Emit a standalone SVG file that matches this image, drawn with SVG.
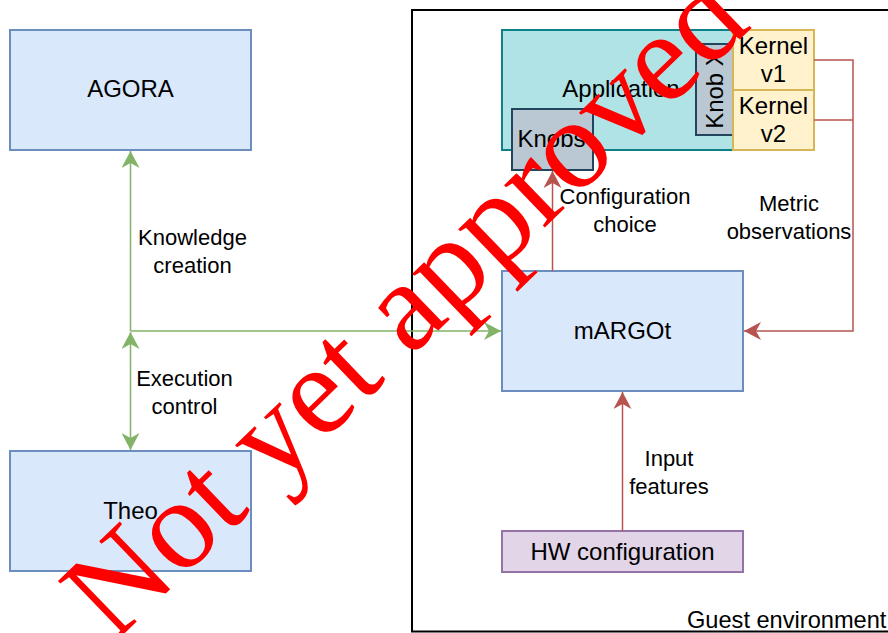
<svg xmlns="http://www.w3.org/2000/svg" width="888" height="633" viewBox="0 0 888 633">
<style>
  text { font-family: "Liberation Sans", Arial, sans-serif; fill: #000; }
  .node { font-size: 24px; text-anchor: middle; }
  .lbl { font-size: 22px; text-anchor: middle; }
  .blue { fill: #dae8fc; stroke: #6c8ebf; stroke-width: 2; }
  .teal { fill: #b0e3e6; stroke: #0e8088; stroke-width: 2; }
  .gray { fill: #bac8d3; stroke: #23445d; stroke-width: 2; }
  .yel { fill: #fff2cc; stroke: #d6b656; stroke-width: 2; }
  .purp { fill: #e1d5e7; stroke: #9673a6; stroke-width: 2; }
  .g { fill: none; stroke: #82b366; stroke-width: 1.5; }
  .r { fill: none; stroke: #b85450; stroke-width: 1.5; }
  .wm { font-family: "Liberation Serif", "Times New Roman", serif; font-size: 128px; fill: #ff0000; }
</style>
<defs>
  <marker id="ag" markerUnits="userSpaceOnUse" viewBox="0 0 17 18" refX="17" refY="9" markerWidth="17" markerHeight="18" orient="auto-start-reverse">
    <path d="M0,0 L17,9 L0,18 L5,9 Z" fill="#82b366"/>
  </marker>
  <marker id="ar" markerUnits="userSpaceOnUse" viewBox="0 0 17 18" refX="17" refY="9" markerWidth="17" markerHeight="18" orient="auto-start-reverse">
    <path d="M0,0 L17,9 L0,18 L5,9 Z" fill="#b85450"/>
  </marker>
</defs>
<rect width="888" height="633" fill="#ffffff"/>

<g id="guest">
  <rect x="412" y="10" width="520" height="621.5" fill="none" stroke="#000" stroke-width="2"/>
  <text x="687" y="628" style="font-size:23.6px">Guest environment</text>
</g>

<g id="agora">
  <rect class="blue" x="10" y="30" width="241" height="120"/>
  <text class="node" x="130.5" y="97">AGORA</text>
</g>
<g id="theo">
  <rect class="blue" x="10" y="451" width="241" height="120"/>
  <text class="node" x="130.5" y="519">Theo</text>
</g>
<g id="application">
  <rect class="teal" x="502" y="30" width="241" height="120"/>
  <text class="node" x="621" y="97">Application</text>
</g>
<g id="knobs">
  <rect class="gray" x="512" y="109" width="81" height="61"/>
  <text class="node" x="551.5" y="147">Knobs</text>
</g>
<g id="knobx">
  <rect class="gray" x="696" y="44" width="37" height="91"/>
  <text class="node" transform="translate(723,89.5) rotate(-90)" x="0" y="0">Knob X</text>
</g>
<g id="kernel1">
  <rect class="yel" x="733" y="30" width="81" height="60"/>
  <text class="node" x="773.5" y="54">Kernel</text>
  <text class="node" x="773.5" y="82">v1</text>
</g>
<g id="kernel2">
  <rect class="yel" x="733" y="90" width="81" height="60"/>
  <text class="node" x="773.5" y="114">Kernel</text>
  <text class="node" x="773.5" y="142">v2</text>
</g>
<g id="margot">
  <rect class="blue" x="502" y="271" width="241" height="120"/>
  <text class="node" x="622.5" y="339">mARGOt</text>
</g>
<g id="hw">
  <rect class="purp" x="502" y="531" width="241" height="41"/>
  <text class="node" x="622.5" y="560">HW configuration</text>
</g>

<g id="connectors">
  <path class="g" d="M130.5 331 L130.5 151" marker-end="url(#ag)"/>
  <path class="g" d="M130.5 331 L501 331" marker-end="url(#ag)"/>
  <path class="g" d="M130.5 450 L130.5 332" marker-start="url(#ag)" marker-end="url(#ag)"/>
  <path class="r" d="M552.5 271 L552.5 171" marker-end="url(#ar)"/>
  <path class="r" d="M622.5 531 L622.5 392" marker-end="url(#ar)"/>
  <path class="r" d="M814 60 L853 60 L853 331 L744 331" marker-end="url(#ar)"/>
  <path class="r" d="M814 120 L853 120"/>
  <text class="lbl" x="192.5" y="245">Knowledge</text>
  <text class="lbl" x="192.5" y="273">creation</text>
  <text class="lbl" x="184.5" y="386">Execution</text>
  <text class="lbl" x="184.5" y="414">control</text>
  <text class="lbl" x="625" y="204">Configuration</text>
  <text class="lbl" x="625" y="232">choice</text>
  <rect x="727" y="190" width="124" height="57" fill="#ffffff"/>
  <text class="lbl" x="789" y="211">Metric</text>
  <text class="lbl" x="789" y="239">observations</text>
  <text class="lbl" x="669" y="466">Input</text>
  <text class="lbl" x="669" y="494">features</text>
</g>

<text class="wm" transform="translate(113.5,644) rotate(-44)" x="0" y="0">Not yet approved</text>
</svg>
